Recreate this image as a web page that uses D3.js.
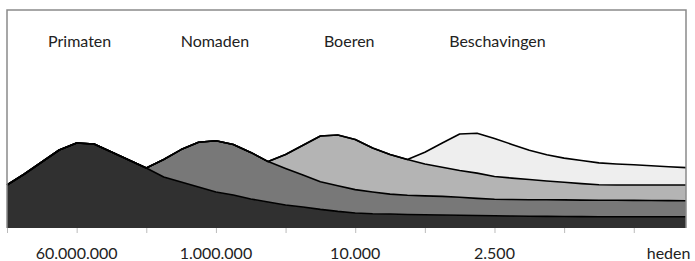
<!DOCTYPE html>
<html><head><meta charset="utf-8">
<script src="https://cdn.jsdelivr.net/npm/d3@7"></script>
<style>html,body{margin:0;padding:0;background:#fff;}svg{display:block;}</style>
</head><body>
<script>
const categories = ["","","","","60.000.000","","","","","","","","1.000.000","","","","","","","",
  "10.000","","","","","","","","2.500","","","","","","","","","","heden",""];
const seriesNames = ["Primaten","Nomaden","Boeren","Beschavingen"];
const primaten = [43,54,66,78,85,84,76,68,60,51,46,41,36,33,29,26,23,21,18.6,16.6,
  15,14.3,14,13.5,13.2,13,12.8,12.5,12.3,12,11.8,11.6,11.5,11.4,11.3,11.3,11.3,11.3,11.3,11.3];
const nomaden = [0,0,0,0,0,0,0,0,0,17.5,32.4,44.7,51.3,50.5,46.6,40.4,36.5,31.9,27.6,25.7,
  23.4,21.7,19.9,19.2,18.9,18.6,17.9,17.1,16.4,16.5,16.5,16.6,16.6,16.5,16.5,16.4,16.3,16.2,16.1,16.0];
const boeren = [0,0,0,0,0,0,0,0,0,0,0,0,0,0,0,0,14,29.9,45.8,50.7,
  50.1,44,39.6,35.8,31.9,29.1,26.8,25.3,22.8,21.4,20.2,18.8,17.6,16.5,15.4,15.3,15.4,15.5,15.6,15.7];
const beschavingen = [0,0,0,0,0,0,0,0,0,0,0,0,0,0,0,0,0,0,0,0,
  0,0,0,0,11.7,24.3,36.5,39.8,37.9,33.7,29.3,26.2,24.2,23.1,21.9,21,20.2,19.3,18.3,17.4];
const yMax = 218;

(function(){
const W = 695, H = 261;
const colors = ["#303030","#787878","#b4b4b4","#eeeeee"];
const mL = 7, mR = 686, mT = 10, mB = 228;

const rows = categories.map((c,i)=>({i, Primaten:primaten[i], Nomaden:nomaden[i], Boeren:boeren[i], Beschavingen:beschavingen[i]}));
const svg = d3.select("body").append("svg").attr("width",W).attr("height",H);
const x = d3.scaleLinear().domain([0, categories.length-1]).range([mL,mR]);
const y = d3.scaleLinear().domain([0,yMax]).range([mB,mT]);

const stack = d3.stack().keys(seriesNames)(rows);
const area = d3.area().x(d=>x(d.data.i)).y0(d=>y(d[0])).y1(d=>y(d[1]));
const line = d3.line().x(d=>x(d.data.i)).y(d=>y(d[1]));

svg.selectAll("path.a").data(stack).join("path").attr("class","a")
  .attr("d",area).attr("fill",(d,i)=>colors[i]);
svg.selectAll("path.l").data(stack).join("path").attr("class","l")
  .attr("d",line).attr("fill","none").attr("stroke","#000").attr("stroke-width",1.6)
  .attr("stroke-linejoin","round");

svg.append("path").attr("d",`M${mL},${mB}V${mT}H${mR}V${mB}`)
  .attr("fill","none").attr("stroke","#8a8a8a").attr("stroke-width",1.5);

const tickIdx = d3.range(0, categories.length, 4);
const xAxis = d3.axisBottom(x).tickValues(tickIdx).tickSize(5).tickFormat("");
const gx = svg.append("g").attr("transform",`translate(0,${mB})`).call(xAxis);
gx.select(".domain").remove();
gx.selectAll(".tick line").attr("stroke","#bbbbbb");

svg.selectAll("text.cat").data(rows.filter(r=>categories[r.i]!==""))
  .join("text").attr("class","cat")
  .attr("x",d=>x(d.i)).attr("y",259).attr("text-anchor","middle")
  .attr("font-family","Lato, 'Open Sans', sans-serif").attr("font-size",16).attr("fill","#222")
  .text(d=>categories[d.i]);

const nameIdx = [4,12,20,28];
const nameDx = [3,-1,-6,3];
svg.selectAll("text.name").data(seriesNames).join("text").attr("class","name")
  .attr("x",(d,i)=>x(nameIdx[i])+nameDx[i]).attr("y",47).attr("text-anchor","middle")
  .attr("font-family","Lato, 'Open Sans', sans-serif").attr("font-size",16).attr("fill","#222")
  .text(d=>d);
})();
</script>
</body></html>
